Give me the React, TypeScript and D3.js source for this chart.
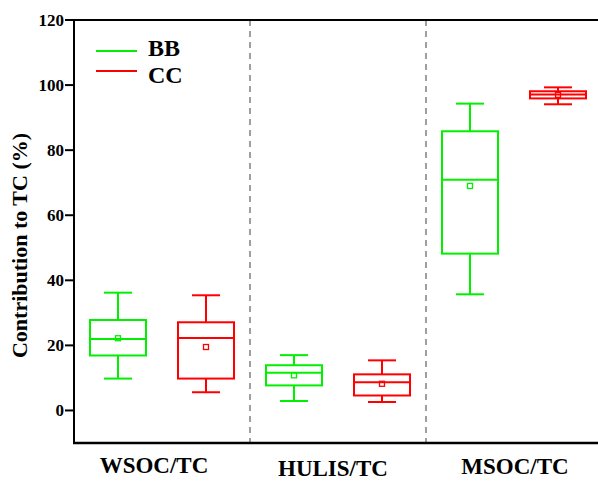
import React from "react";
import * as d3 from "d3";

const categories = ["WSOC/TC", "HULIS/TC", "MSOC/TC"];
const seriesNames = ["BB", "CC"];
const seriesColors = ["#00f000", "#ff0000"];
// per category: [min, q1, median, q3, max]
const bbStats = [
  [9.8, 16.9, 22.0, 27.8, 36.2],
  [2.9, 7.7, 11.6, 13.9, 17.0],
  [35.7, 48.2, 70.9, 85.8, 94.3],
];
const ccStats = [
  [5.6, 9.8, 22.3, 27.1, 35.4],
  [2.6, 4.6, 8.7, 11.1, 15.4],
  [94.1, 95.9, 97.1, 98.1, 99.3],
];
const bbMeans = [22.2, 10.8, 69.0];
const ccMeans = [19.5, 8.2, 97.0];
const yTicks = [0, 20, 40, 60, 80, 100, 120];

const W = 598;
const H = 481;
const left = 74;
const right = 602;
const top = 20;
const bottom = 443;
const FONT = "'Liberation Serif', 'Times New Roman', serif";
const labelShift = [-8, -5, 1];
const labelBaseline = [473, 476, 474];

export default function App() {
  const y = d3.scaleLinear().domain([-10, 120]).range([bottom, top]);
  const x = d3.scaleBand().domain(categories).range([left, right]).paddingInner(0);
  const sub = d3.scaleBand().domain(seriesNames).range([0, x.bandwidth()]);
  const boxW = 56;
  const capW = 28;
  const series = [
    { name: "BB", stats: bbStats, means: bbMeans, color: seriesColors[0] },
    { name: "CC", stats: ccStats, means: ccMeans, color: seriesColors[1] },
  ];

  return (
    <svg
      width={W}
      height={H}
      style={{ position: "absolute", left: 0, top: 0, background: "#fff" }}
      fontFamily={FONT}
    >
      {categories.slice(1).map((c) => (
        <line
          key={c}
          x1={x(c)!}
          x2={x(c)!}
          y1={top}
          y2={bottom}
          stroke="#808080"
          strokeWidth={1.5}
          strokeDasharray="6,5"
        />
      ))}
      {series.map((s) =>
        categories.map((c, i) => {
          const cx = x(c)! + sub(s.name)! + sub.bandwidth() / 2;
          const [mn, q1, md, q3, mx] = s.stats[i];
          return (
            <g key={s.name + c} stroke={s.color} strokeWidth={2} fill="none">
              <line x1={cx} x2={cx} y1={y(mx)} y2={y(q3)} />
              <line x1={cx} x2={cx} y1={y(q1)} y2={y(mn)} />
              <line x1={cx - capW / 2} x2={cx + capW / 2} y1={y(mx)} y2={y(mx)} />
              <line x1={cx - capW / 2} x2={cx + capW / 2} y1={y(mn)} y2={y(mn)} />
              <rect x={cx - boxW / 2} y={y(q3)} width={boxW} height={y(q1) - y(q3)} />
              <line x1={cx - boxW / 2} x2={cx + boxW / 2} y1={y(md)} y2={y(md)} />
              <rect
                x={cx - 2.5}
                y={y(s.means[i]) - 2.5}
                width={5}
                height={5}
                strokeWidth={1.3}
              />
            </g>
          );
        })
      )}
      <line x1={left} x2={W} y1={top} y2={top} stroke="#000" strokeWidth={2} />
      <line x1={left - 1} x2={W} y1={bottom} y2={bottom} stroke="#000" strokeWidth={2.5} />
      <line x1={left} x2={left} y1={top - 1} y2={bottom} stroke="#000" strokeWidth={2} />
      {yTicks.map((t) => (
        <g key={t}>
          <line x1={left - 9} x2={left} y1={y(t)} y2={y(t)} stroke="#000" strokeWidth={2} />
          <text
            x={left - 10}
            y={y(t)}
            dy="0.35em"
            textAnchor="end"
            fontSize={17}
            fontWeight="bold"
          >
            {t}
          </text>
        </g>
      ))}
      <text
        transform={`translate(27, ${(top + bottom) / 2 + 14}) rotate(-90)`}
        textAnchor="middle"
        fontSize={22}
        fontWeight="bold"
      >
        Contribution to TC (%)
      </text>
      {categories.map((c, i) => (
        <text
          key={c}
          x={x(c)! + x.bandwidth() / 2 + labelShift[i]}
          y={labelBaseline[i]}
          textAnchor="middle"
          fontSize={23}
          fontWeight="bold"
        >
          {c}
        </text>
      ))}
      {series.map((s, i) => (
        <g key={s.name}>
          <line x1={96} x2={137} y1={51 + i * 20} y2={51 + i * 20} stroke={s.color} strokeWidth={2} />
          <text x={148} y={56 + i * 27} fontSize={24} fontWeight="bold">
            {s.name}
          </text>
        </g>
      ))}
    </svg>
  );
}
